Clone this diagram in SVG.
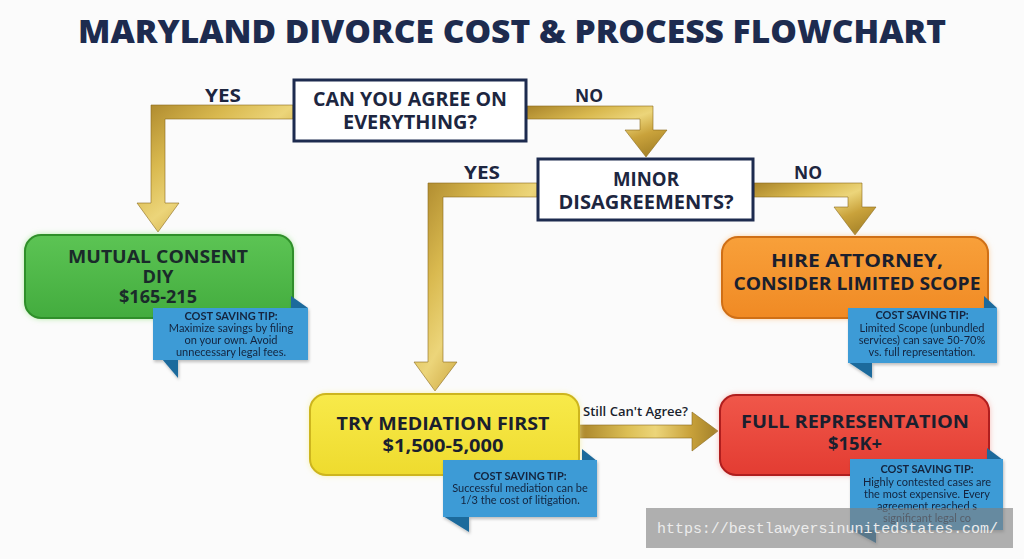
<svg xmlns="http://www.w3.org/2000/svg" width="1024" height="559" viewBox="0 0 1024 559">
<defs>
<linearGradient id="gold" x1="0" y1="0" x2="1" y2="1">
<stop offset="0" stop-color="#a9842a"/>
<stop offset="0.3" stop-color="#d9b94f"/>
<stop offset="0.5" stop-color="#ecd57a"/>
<stop offset="0.7" stop-color="#c9a23b"/>
<stop offset="1" stop-color="#9a7822"/>
</linearGradient>
<linearGradient id="goldh" x1="0" y1="0" x2="1" y2="0">
<stop offset="0" stop-color="#a9842a"/>
<stop offset="0.35" stop-color="#dcbf55"/>
<stop offset="0.55" stop-color="#ecd57a"/>
<stop offset="0.8" stop-color="#c9a23b"/>
<stop offset="1" stop-color="#a2802a"/>
</linearGradient>
<linearGradient id="gGreen" x1="0" y1="0" x2="0" y2="1"><stop offset="0" stop-color="#5cc454"/><stop offset="1" stop-color="#43ac3e"/></linearGradient>
<linearGradient id="gOrange" x1="0" y1="0" x2="0" y2="1"><stop offset="0" stop-color="#f8a03a"/><stop offset="1" stop-color="#f08a24"/></linearGradient>
<linearGradient id="gYellow" x1="0" y1="0" x2="0" y2="1"><stop offset="0" stop-color="#f8ea4a"/><stop offset="1" stop-color="#eedb2e"/></linearGradient>
<linearGradient id="gRed" x1="0" y1="0" x2="0" y2="1"><stop offset="0" stop-color="#f0574a"/><stop offset="1" stop-color="#e33c32"/></linearGradient>
<filter id="sh" x="-10%" y="-10%" width="130%" height="140%"><feDropShadow dx="1" dy="2" stdDeviation="1.5" flood-color="#000" flood-opacity="0.25"/></filter>
<filter id="glow" x="-10%" y="-20%" width="120%" height="140%"><feGaussianBlur stdDeviation="3"/></filter>
</defs>
<style>
.title{font-family:"Open Sans","Liberation Sans",sans-serif;font-weight:800;font-size:31px;fill:#1d2b4f}
.q{font-family:"Open Sans","Liberation Sans",sans-serif;font-weight:700;font-size:19px;fill:#1d2640}
.lbl{font-family:"Open Sans","Liberation Sans",sans-serif;font-weight:700;font-size:18px;fill:#1d2640}
.h{font-family:"Open Sans","Liberation Sans",sans-serif;font-weight:700;font-size:18.5px;fill:#1a1f2e}
.hs{font-family:"Open Sans","Liberation Sans",sans-serif;font-weight:700;font-size:18px;fill:#1a2a2a}
.dq{fill:#fff;stroke:#1d2b4f;stroke-width:3}
.tip{fill:#3d9bd6}
.fold{fill:#1f6a9c}
.th{font-family:Lato,"Open Sans",sans-serif;font-weight:700;font-size:11px;fill:#14243e}
.tt{font-family:Lato,"Open Sans",sans-serif;font-size:11px;fill:#14243e}
.arrow{fill:url(#gold);stroke:#8a6a1c;stroke-width:0.6}
.still{font-family:"Open Sans","Liberation Sans",sans-serif;font-weight:600;font-size:12.5px;fill:#1a1f2e}
</style>
<rect width="1024" height="559" fill="#fbfbfb"/>
<text class="title" x="512" y="43" text-anchor="middle" textLength="868" lengthAdjust="spacingAndGlyphs">MARYLAND DIVORCE COST &amp; PROCESS FLOWCHART</text>

<g id="connectors">
<polygon class="arrow" points="293,105 151,105 151,203 137,203 158,232 179,203 165,203 165,119 293,119"/>
<polygon class="arrow" points="527,106 653,106 653,130 667,130 646,157 625,130 640,130 640,119 527,119"/>
<polygon class="arrow" points="537,183 428,183 428,362 414,362 435,391 457,362 443,362 443,197 537,197"/>
<polygon class="arrow" points="754,183 862,183 862,207 876,207 855,235 834,207 848,207 848,197 754,197"/>
<polygon points="579,425 692,425 692,412 718,431 692,451 692,438 579,438" fill="url(#goldh)" stroke="#8a6a1c" stroke-width="0.6"/>
<text class="lbl" x="223" y="102" text-anchor="middle" textLength="36" lengthAdjust="spacingAndGlyphs">YES</text>
<text class="lbl" x="589" y="102" text-anchor="middle" textLength="28" lengthAdjust="spacingAndGlyphs">NO</text>
<text class="lbl" x="482" y="179" text-anchor="middle" textLength="36" lengthAdjust="spacingAndGlyphs">YES</text>
<text class="lbl" x="808" y="179" text-anchor="middle" textLength="28" lengthAdjust="spacingAndGlyphs">NO</text>
<text class="still" x="583" y="416" textLength="105" lengthAdjust="spacingAndGlyphs">Still Can't Agree?</text>
</g>

<g id="q1">
<rect class="dq" x="294" y="80" width="232" height="61"/>
<text class="q" x="410" y="106" text-anchor="middle" textLength="194" lengthAdjust="spacingAndGlyphs">CAN YOU AGREE ON</text>
<text class="q" x="410" y="129" text-anchor="middle" textLength="134" lengthAdjust="spacingAndGlyphs">EVERYTHING?</text>
</g>

<g id="q2">
<rect class="dq" x="538" y="159" width="215" height="61"/>
<text class="q" x="646" y="186" text-anchor="middle" textLength="66" lengthAdjust="spacingAndGlyphs">MINOR</text>
<text class="q" x="646" y="209" text-anchor="middle" textLength="175" lengthAdjust="spacingAndGlyphs">DISAGREEMENTS?</text>
</g>

<g id="mutual">
<rect x="25" y="235" width="268" height="83" rx="16" fill="#9be58a" filter="url(#glow)"/>
<rect x="25" y="235" width="268" height="83" rx="16" fill="url(#gGreen)" stroke="#2f8f2a" stroke-width="2"/>
<text class="hs" x="158" y="263" text-anchor="middle" textLength="180" lengthAdjust="spacingAndGlyphs">MUTUAL CONSENT</text>
<text class="hs" x="158" y="283" text-anchor="middle" textLength="31" lengthAdjust="spacingAndGlyphs">DIY</text>
<text class="hs" x="158" y="303" text-anchor="middle" textLength="78" lengthAdjust="spacingAndGlyphs">$165-215</text>
</g>

<g id="tip1" filter="url(#sh)">
<polygon class="fold" points="291,296 308,308 291,308"/>
<polygon class="fold" points="162,359 178,359 178,378"/>
<rect class="tip" x="153" y="308" width="155" height="52"/>
<text class="th" x="231" y="320" text-anchor="middle">COST SAVING TIP:</text>
<text class="tt" x="231" y="332" text-anchor="middle">Maximize savings by filing</text>
<text class="tt" x="231" y="344" text-anchor="middle">on your own. Avoid</text>
<text class="tt" x="231" y="356" text-anchor="middle">unnecessary legal fees.</text>
</g>

<g id="hire">
<rect x="722" y="237" width="266" height="81" rx="16" fill="#fbc48a" filter="url(#glow)"/>
<rect x="722" y="237" width="266" height="81" rx="16" fill="url(#gOrange)" stroke="#cf6f16" stroke-width="2"/>
<text class="h" x="857" y="267" text-anchor="middle" textLength="172" lengthAdjust="spacingAndGlyphs">HIRE ATTORNEY,</text>
<text class="h" x="857" y="290" text-anchor="middle" textLength="247" lengthAdjust="spacingAndGlyphs">CONSIDER LIMITED SCOPE</text>
</g>

<g id="tip2" filter="url(#sh)">
<polygon class="fold" points="984,296 997,308 984,308"/>
<polygon class="fold" points="848,362 872,362 872,378"/>
<rect class="tip" x="848" y="308" width="149" height="55"/>
<text class="th" x="922" y="319" text-anchor="middle">COST SAVING TIP:</text>
<text class="tt" x="922" y="332" text-anchor="middle">Limited Scope (unbundled</text>
<text class="tt" x="922" y="344" text-anchor="middle">services) can save 50-70%</text>
<text class="tt" x="922" y="356" text-anchor="middle">vs. full representation.</text>
</g>

<g id="mediation">
<rect x="310" y="394" width="269" height="81" rx="16" fill="#f6ef9a" filter="url(#glow)"/>
<rect x="310" y="394" width="269" height="81" rx="16" fill="url(#gYellow)" stroke="#cdb51e" stroke-width="2"/>
<text class="h" x="443" y="430" text-anchor="middle" textLength="213" lengthAdjust="spacingAndGlyphs">TRY MEDIATION FIRST</text>
<text class="h" x="443" y="452" text-anchor="middle" textLength="121" lengthAdjust="spacingAndGlyphs">$1,500-5,000</text>
</g>

<g id="tip3" filter="url(#sh)">
<polygon class="fold" points="582,449 597,461 582,461"/>
<polygon class="fold" points="443,516 469,516 469,532"/>
<rect class="tip" x="443" y="460" width="154" height="57"/>
<text class="th" x="520" y="480" text-anchor="middle">COST SAVING TIP:</text>
<text class="tt" x="520" y="492" text-anchor="middle">Successful mediation can be</text>
<text class="tt" x="520" y="504" text-anchor="middle">1/3 the cost of litigation.</text>
</g>

<g id="full">
<rect x="720" y="395" width="269" height="80" rx="16" fill="#f7a8a0" filter="url(#glow)"/>
<rect x="720" y="395" width="269" height="80" rx="16" fill="url(#gRed)" stroke="#b01e1e" stroke-width="2"/>
<text class="h" x="855" y="428" text-anchor="middle" textLength="228" lengthAdjust="spacingAndGlyphs">FULL REPRESENTATION</text>
<text class="h" x="855" y="450" text-anchor="middle" textLength="54" lengthAdjust="spacingAndGlyphs">$15K+</text>
</g>

<g id="tip4" filter="url(#sh)">
<polygon class="fold" points="987,448 1003,460 987,460"/>
<polygon class="fold" points="850,529 876,529 876,543"/>
<rect class="tip" x="850" y="459" width="153" height="71"/>
<text class="th" x="927" y="473" text-anchor="middle">COST SAVING TIP:</text>
<text class="tt" x="927" y="486" text-anchor="middle">Highly contested cases are</text>
<text class="tt" x="927" y="498" text-anchor="middle">the most expensive. Every</text>
<text class="tt" x="927" y="510" text-anchor="middle">agreement reached s</text>
<text class="tt" x="927" y="522" text-anchor="middle">significant legal co</text>
</g>

<g id="watermark">
<rect x="646" y="508" width="367" height="40" fill="#7f7f7f" fill-opacity="0.62"/>
<text x="657" y="533" font-family="Liberation Mono, DejaVu Sans Mono, monospace" font-size="15" fill="#ececec" textLength="341" lengthAdjust="spacingAndGlyphs">https://bestlawyersinunitedstates.com/</text>
</g>
</svg>
